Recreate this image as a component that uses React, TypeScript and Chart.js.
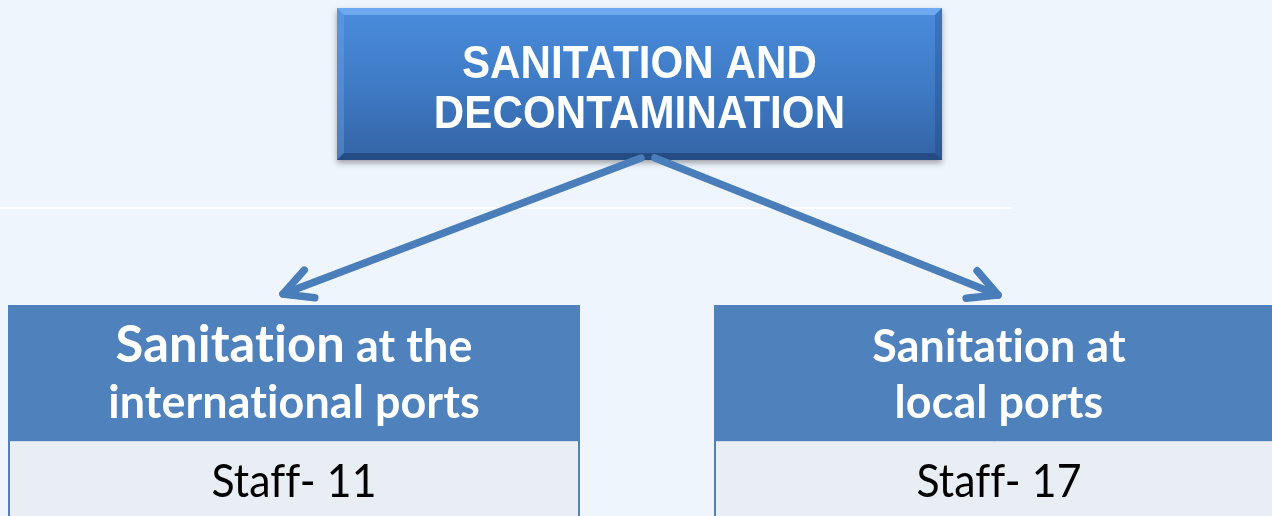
import React, { useEffect, useRef } from "react";
import { Chart, registerables } from "chart.js";

Chart.register(...registerables);

// ---- content ----
const rootTitleLines = ["SANITATION AND", "DECONTAMINATION"];
const branchTitleLines = [
  [
    [
      { text: "Sanitation", big: true },
      { text: " at the", big: false },
    ],
    [{ text: "international ports", big: false }],
  ],
  [
    [{ text: "Sanitation at", big: false }],
    [{ text: "local ports", big: false }],
  ],
];
const staffCounts = [11, 17];
const staffLabels = staffCounts.map((n) => `Staff- ${n}`);

// ---- layout (diagram units = pixels of a 1272x516 canvas) ----
const W = 1272;
const H = 516;
const ROOT = { x0: 337, x1: 942, y0: 8, y1: 160 };
const BRANCHES = [
  { x0: 8, x1: 580, cx: 294 },
  { x0: 714, x1: 1290, cx: 999 },
];
const HEAD_Y0 = 305;
const HEAD_Y1 = 441;
const BODY_Y1 = 530;
const ARROWS = [
  { from: [641, 158], to: [283, 294] },
  { from: [655, 158], to: [998, 295] },
];

const BG = "#EEF5FD";
const HEAD_COLOR = "#4F81BD";
const BODY_COLOR = "#E9EEF5";
const ARROW_COLOR = "#4A7EBB";

function drawScaledText(
  ctx: CanvasRenderingContext2D,
  text: string,
  x: number,
  y: number,
  sx: number
) {
  ctx.save();
  ctx.translate(x, y);
  ctx.scale(sx, 1);
  ctx.fillText(text, 0, 0);
  ctx.restore();
}

const diagramPlugin = {
  id: "diagram",
  beforeDraw(chart: any) {
    const ctx: CanvasRenderingContext2D = chart.ctx;
    ctx.save();
    ctx.fillStyle = BG;
    ctx.fillRect(0, 0, chart.width, chart.height);
    ctx.restore();
  },
  afterDraw(chart: any) {
    const ctx: CanvasRenderingContext2D = chart.ctx;
    const xs = chart.scales.x;
    const ys = chart.scales.y;
    const X = (v: number) => xs.getPixelForValue(v);
    const Y = (v: number) => ys.getPixelForValue(v);

    ctx.save();
    (ctx as any).letterSpacing = "0.1px";

    // faint divider line
    ctx.strokeStyle = "rgba(255,255,255,0.85)";
    ctx.lineWidth = 2;
    ctx.beginPath();
    ctx.moveTo(X(0), Y(208));
    ctx.lineTo(X(1012), Y(208));
    ctx.stroke();

    // ---- root box ----
    const rx0 = X(ROOT.x0), rx1 = X(ROOT.x1), ry0 = Y(ROOT.y0), ry1 = Y(ROOT.y1);
    ctx.save();
    ctx.shadowColor = "rgba(0,0,0,0.35)";
    ctx.shadowBlur = 6;
    ctx.shadowOffsetY = 3;
    const g = ctx.createLinearGradient(0, ry0, 0, ry1);
    g.addColorStop(0, "#4A8CDC");
    g.addColorStop(0.5, "#3F7BC6");
    g.addColorStop(1, "#3364A5");
    ctx.fillStyle = g;
    ctx.fillRect(rx0, ry0, rx1 - rx0, ry1 - ry0);
    ctx.restore();
    // bevels
    const bv = 7;
    ctx.fillStyle = "rgba(140,195,255,0.55)";
    ctx.beginPath();
    ctx.moveTo(rx0, ry0);
    ctx.lineTo(rx1, ry0);
    ctx.lineTo(rx1 - bv, ry0 + bv);
    ctx.lineTo(rx0 + bv, ry0 + bv);
    ctx.closePath();
    ctx.fill();
    ctx.fillStyle = "rgba(120,170,235,0.35)";
    ctx.beginPath();
    ctx.moveTo(rx0, ry0);
    ctx.lineTo(rx0 + bv, ry0 + bv);
    ctx.lineTo(rx0 + bv, ry1 - bv);
    ctx.lineTo(rx0, ry1);
    ctx.closePath();
    ctx.fill();
    ctx.fillStyle = "rgba(20,50,100,0.25)";
    ctx.beginPath();
    ctx.moveTo(rx1, ry0);
    ctx.lineTo(rx1 - bv, ry0 + bv);
    ctx.lineTo(rx1 - bv, ry1 - bv);
    ctx.lineTo(rx1, ry1);
    ctx.closePath();
    ctx.fill();
    ctx.fillStyle = "rgba(20,45,90,0.45)";
    ctx.beginPath();
    ctx.moveTo(rx0, ry1);
    ctx.lineTo(rx0 + bv, ry1 - bv);
    ctx.lineTo(rx1 - bv, ry1 - bv);
    ctx.lineTo(rx1, ry1);
    ctx.closePath();
    ctx.fill();

    ctx.fillStyle = "#FFFFFF";
    ctx.textAlign = "center";
    ctx.textBaseline = "alphabetic";
    ctx.font = "bold 46px 'Liberation Sans', Arial, sans-serif";
    const rcx = (rx0 + rx1) / 2;
    drawScaledText(ctx, rootTitleLines[0], rcx, Y(78), 0.915);
    drawScaledText(ctx, rootTitleLines[1], rcx, Y(128), 0.915);

    // ---- arrows ----
    ctx.strokeStyle = ARROW_COLOR;
    ctx.lineWidth = 7.5;
    ctx.lineCap = "round";
    ctx.lineJoin = "round";
    ARROWS.forEach((a) => {
      const fx = X(a.from[0]), fy = Y(a.from[1]);
      const tx = X(a.to[0]), ty = Y(a.to[1]);
      ctx.beginPath();
      ctx.moveTo(fx, fy);
      ctx.lineTo(tx, ty);
      ctx.stroke();
      const ang = Math.atan2(ty - fy, tx - fx);
      const len = 32;
      const spread = 0.48;
      ctx.beginPath();
      ctx.moveTo(tx - len * Math.cos(ang - spread), ty - len * Math.sin(ang - spread));
      ctx.lineTo(tx, ty);
      ctx.lineTo(tx - len * Math.cos(ang + spread), ty - len * Math.sin(ang + spread));
      ctx.stroke();
    });
    ctx.lineCap = "butt";

    // ---- branch boxes ----
    BRANCHES.forEach((b, i) => {
      const bx0 = X(b.x0), bx1 = X(b.x1);
      const hy0 = Y(HEAD_Y0), hy1 = Y(HEAD_Y1), by1 = Y(BODY_Y1);
      ctx.fillStyle = HEAD_COLOR;
      ctx.fillRect(bx0, hy0, bx1 - bx0, hy1 - hy0);
      ctx.fillStyle = BODY_COLOR;
      ctx.fillRect(bx0, hy1, bx1 - bx0, by1 - hy1);
      ctx.strokeStyle = HEAD_COLOR;
      ctx.lineWidth = 2;
      ctx.strokeRect(bx0 + 1, hy1, bx1 - bx0 - 2, by1 - hy1);
      ctx.strokeStyle = "rgba(255,255,255,0.7)";
      ctx.lineWidth = 1;
      ctx.beginPath();
      ctx.moveTo(bx0 + 2, hy1 + 0.5);
      ctx.lineTo(bx1 - 2, hy1 + 0.5);
      ctx.stroke();

      const cx = X(b.cx);
      const sx = 0.975;
      const lines = branchTitleLines[i];
      const baselines = [Y(362), Y(418)];
      ctx.fillStyle = "#FFFFFF";
      ctx.textAlign = "left";
      lines.forEach((segs, li) => {
        const widths = segs.map((s) => {
          ctx.font = s.big ? "bold 52px Lato, sans-serif" : "bold 46px Lato, sans-serif";
          return ctx.measureText(s.text).width * sx;
        });
        const total = widths.reduce((p, c) => p + c, 0);
        let x = cx - total / 2;
        segs.forEach((s, si) => {
          ctx.font = s.big ? "bold 52px Lato, sans-serif" : "bold 46px Lato, sans-serif";
          drawScaledText(ctx, s.text, x, baselines[li], sx);
          x += widths[si];
        });
      });

      ctx.fillStyle = "#000000";
      ctx.textAlign = "center";
      ctx.font = "46px Lato, sans-serif";
      drawScaledText(ctx, staffLabels[i], cx, Y(497), 0.93);
    });

    ctx.restore();
  },
};

export default function App() {
  const ref = useRef<HTMLCanvasElement | null>(null);

  useEffect(() => {
    document.body.style.margin = "0";
    document.body.style.background = BG;
    if (!ref.current) return;
    const chart = new Chart(ref.current, {
      type: "scatter",
      data: {
        datasets: [
          {
            label: "staff",
            data: staffCounts.map((n, i) => ({ x: BRANCHES[i].cx, y: 480 })),
            pointRadius: 0,
            showLine: false,
          },
        ],
      },
      options: {
        responsive: false,
        animation: false,
        layout: { padding: 0 },
        events: [],
        plugins: {
          legend: { display: false },
          tooltip: { enabled: false },
          title: { display: false },
        },
        scales: {
          x: { type: "linear", min: 0, max: W, display: false },
          y: { type: "linear", min: 0, max: H, reverse: true, display: false },
        },
      },
      plugins: [diagramPlugin],
    });
    return () => chart.destroy();
  }, []);

  return (
    <div style={{ width: W, height: H, overflow: "hidden" }}>
      <canvas ref={ref} width={W} height={H} style={{ display: "block" }} />
    </div>
  );
}
